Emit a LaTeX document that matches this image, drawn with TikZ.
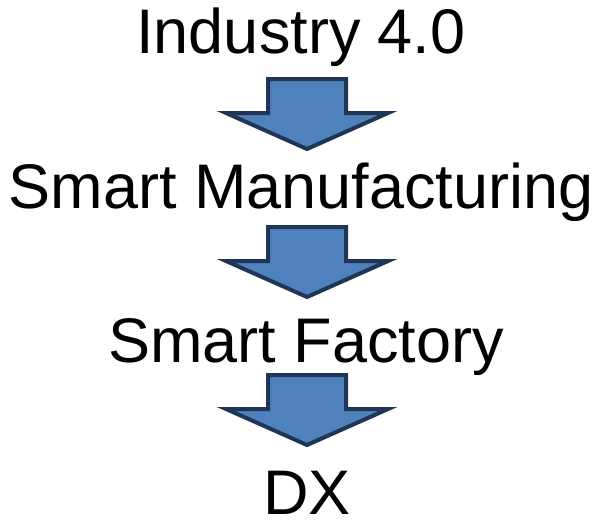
\documentclass[tikz,border=0pt]{standalone}
\usepackage{fontspec}
\setmainfont{Liberation Sans}
\usepackage{tikz}

\begin{document}
\begin{tikzpicture}
        [%%%%%%%%%%%%%%%%%%%%%%%%%%%%%%
        x=1pt, y=-1pt,
        label/.style={anchor=base, inner sep=0pt, text depth=0pt, font=\fontsize{63}{70}\selectfont},
        blockarrow/.style={draw=arrowline, fill=arrowfill, line width=4pt, line join=miter},
        ]%%%%%%%%%%%%%%%%%%%%%%%%%%%%%%
        \definecolor{arrowfill}{HTML}{4F81BD}
        \definecolor{arrowline}{HTML}{1F3656}
        \useasboundingbox (0,0) rectangle (604,519);
        % Text
        \node[label] (ind) at (301,53) {Industry 4.0};
        \node[label] (smf) at (301,208) {Smart Manufacturing};
        \node[label] (sfac) at (306,362) {Smart Factory};
        \node[label] (dx) at (307,514) {DX};
        % Down arrows between the texts
        \foreach \t in {77,225,373}{
          \draw[blockarrow] (307-39,\t+2) -- (307+39,\t+2) -- (307+39,\t+36)
            -- (307+81,\t+36) -- (307,\t+72) -- (307-81,\t+36)
            -- (307-39,\t+36) -- cycle;
        }
      \end{tikzpicture}
\end{document}
